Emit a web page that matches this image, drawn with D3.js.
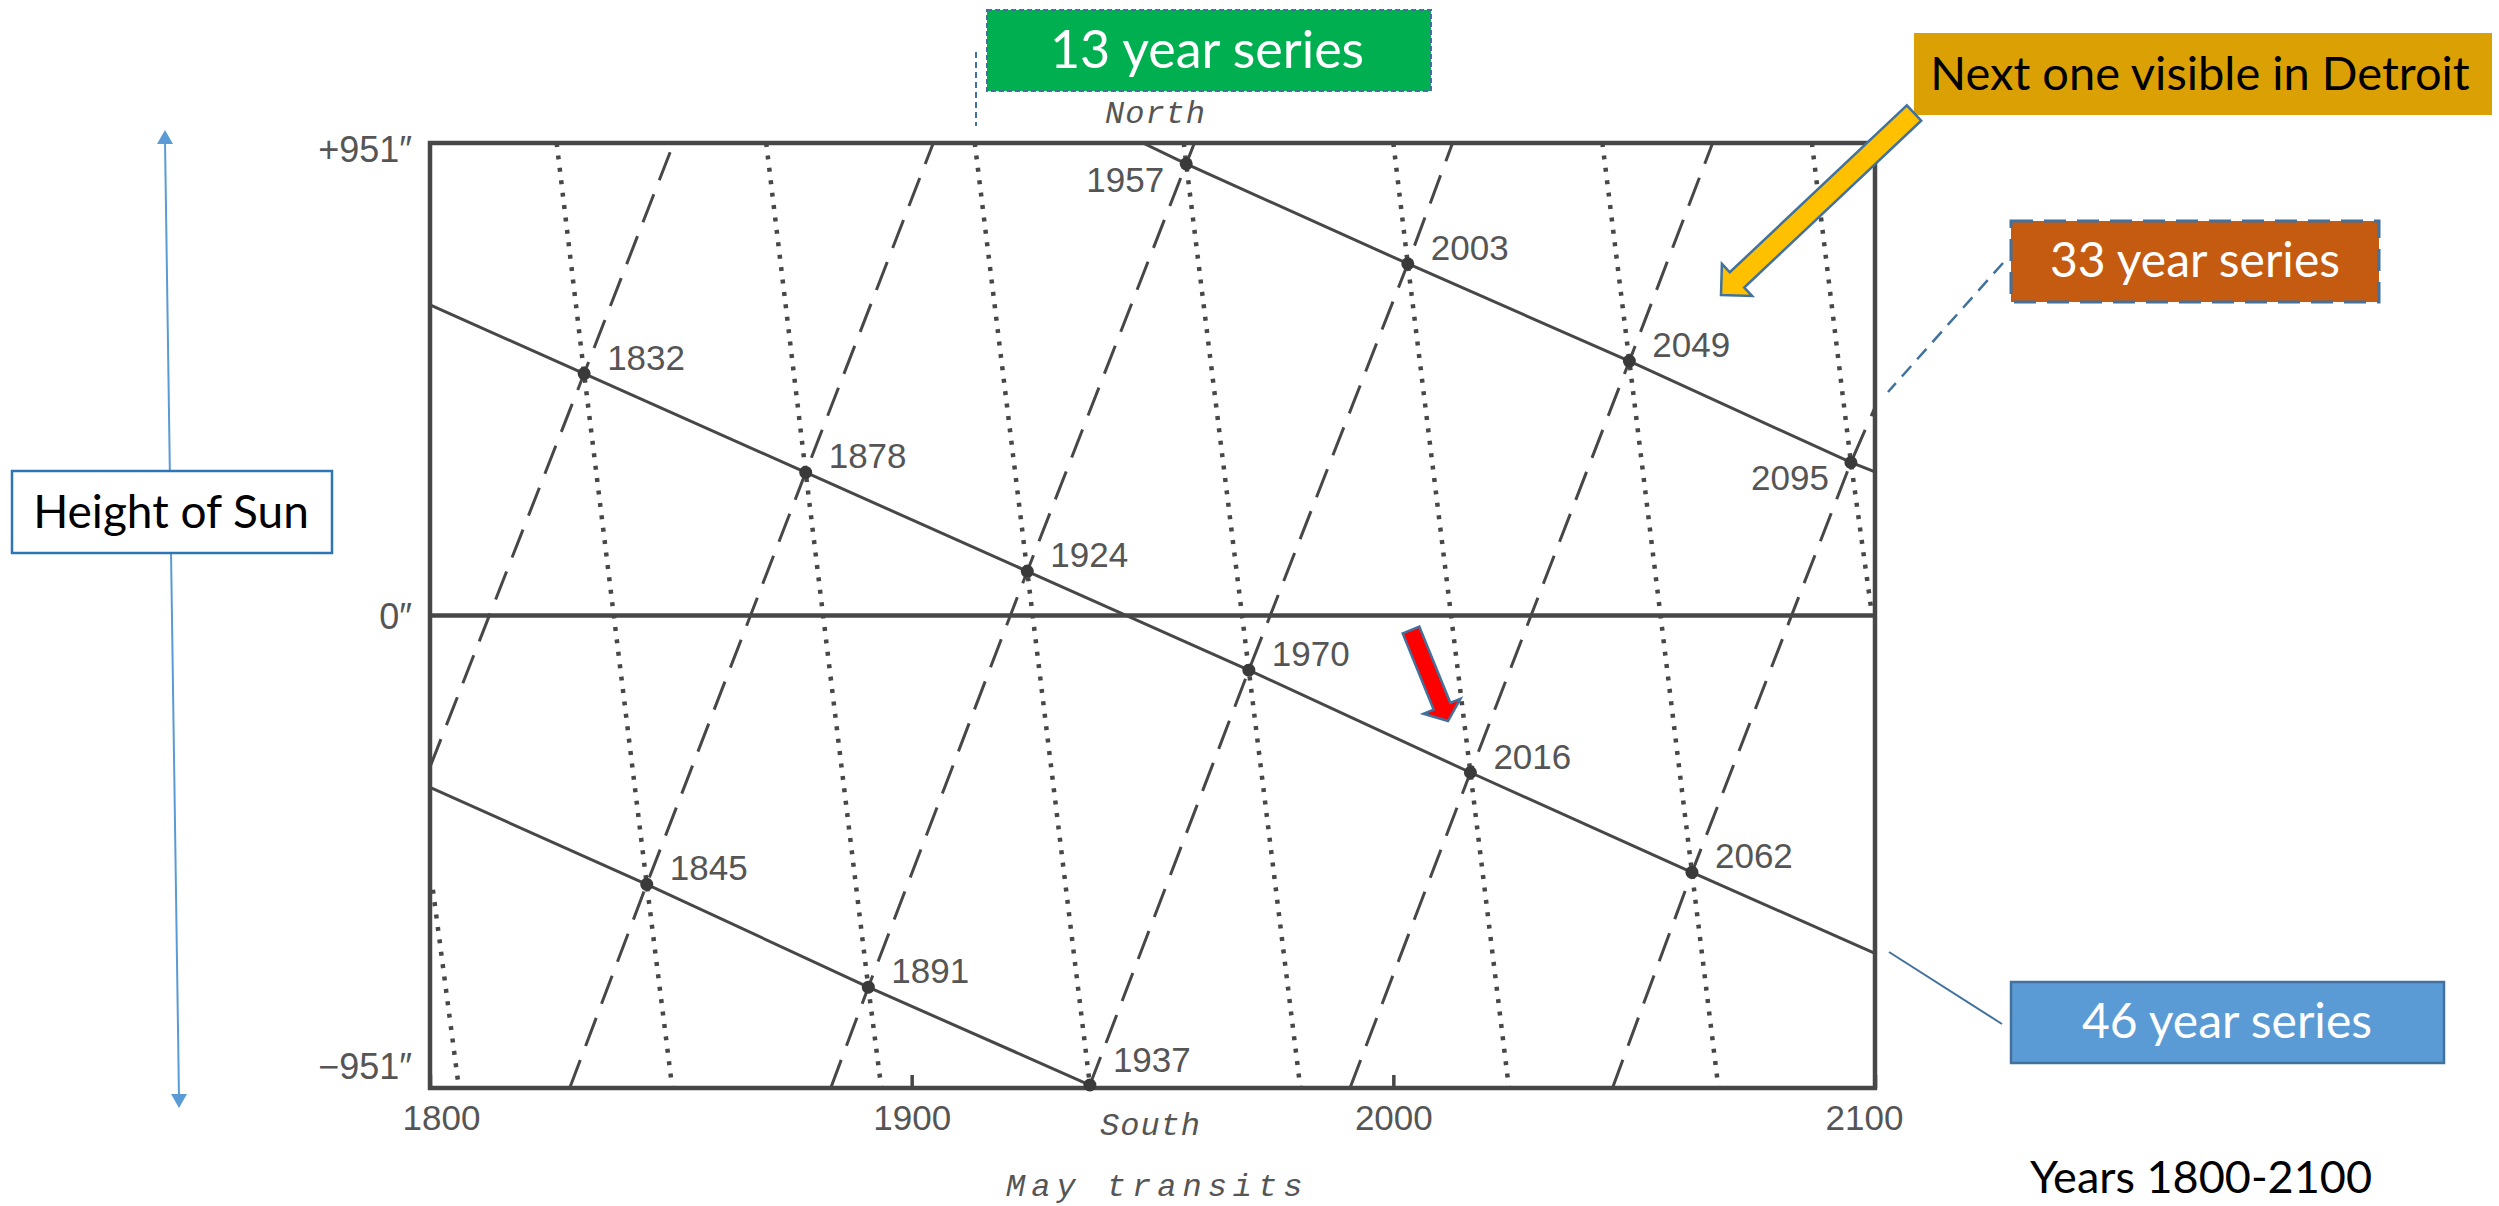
<!DOCTYPE html>
<html>
<head>
<meta charset="utf-8">
<script src="https://cdn.jsdelivr.net/npm/d3@7"></script>
<style>
  html, body { margin: 0; padding: 0; background: #fff; }
  svg { display: block; }
</style>
</head>
<body>
<svg id="chart" width="2499" height="1206"></svg>
<script>
(function () {

  // ==================
  // Data (years / least separation in arc seconds)
  // ==================
  const transitYears = [1832, 1845, 1878, 1891, 1924, 1937, 1957, 1970, 2003, 2016, 2049, 2062, 2095];
  const transitSeparation = [487, -541, 288, -748, 89, -945, 909, -110, 708, -316, 512, -517, 308];

  // 46 year series (solid lines), ends where they meet the frame
  const series46Years = [
    [1948, 1957, 2003, 2049, 2095, 2100],
    [1800, 1832, 1878, 1924, 1970, 2016, 2062, 2100],
    [1800, 1845, 1891, 1937]
  ];
  const series46Values = [
    [951, 909, 708, 512, 308, 289],
    [625, 487, 288, 89, -110, -316, -517, -680],
    [-346, -541, -748, -945]
  ];

  // 13 year series (dotted lines)
  const series13Years = [
    [1800.6, 1806],
    [1826.3, 1832, 1845, 1850.3],
    [1869.8, 1878, 1891, 1893.7],
    [1913.1, 1924, 1937],
    [1956.5, 1957, 1970, 1980.7],
    [2000, 2003, 2016, 2024],
    [2043.4, 2049, 2062, 2067.5],
    [2086.9, 2095, 2099.4]
  ];
  const series13Values = [
    [-552, -951],
    [951, 487, -541, -951],
    [951, 288, -748, -951],
    [951, 89, -945],
    [951, 909, -110, -951],
    [951, 708, -316, -951],
    [951, 512, -517, -951],
    [951, 308, 0]
  ];

  // 33 year series (dashed lines)
  const series33Years = [
    [1800, 1832, 1850.6],
    [1829, 1845, 1878, 1904.5],
    [1883.2, 1891, 1924, 1957, 1958.7],
    [1937, 1970, 2003, 2012.3],
    [1991, 2016, 2049, 2066.3],
    [2045.5, 2062, 2095, 2100]
  ];
  const series33Values = [
    [-305, 487, 951],
    [-951, -541, 288, 951],
    [-951, -748, 89, 909, 951],
    [-945, -110, 708, 951],
    [-951, -316, 512, 951],
    [-951, -517, 308, 419]
  ];

  const xTickValues = [1800, 1900, 2000, 2100];
  const yTickValues = [951, 0, -951];
  const leftLabelYears = [1957, 2095];


  // ==================
  // Layout
  // ==================
  const PLOT_LEFT = 430;
  const PLOT_RIGHT = 1875;
  const PLOT_TOP = 143;
  const PLOT_BOTTOM = 1088;

  const INK = '#474747';
  const LABEL_INK = '#555';
  const CHART_FONT = "'Liberation Sans', Arial, sans-serif";
  const MONO_FONT = "'Liberation Mono', 'Courier New', monospace";
  const NOTE_FONT = "Lato, 'Open Sans', sans-serif";
  const OUTLINE = '#41719C';

  const svg = d3.select('#chart');

  const xScale = d3.scaleLinear()
    .domain([1800, 2100])
    .range([PLOT_LEFT, PLOT_RIGHT]);

  const yScale = d3.scaleLinear()
    .domain([-951, 951])
    .range([PLOT_BOTTOM, PLOT_TOP]);

  const line = d3.line()
    .x(d => xScale(d[0]))
    .y(d => yScale(d[1]));

  svg.append('rect')
    .attr('width', 2499)
    .attr('height', 1206)
    .attr('fill', '#fff');

  svg.append('clipPath')
    .attr('id', 'plotClip')
    .append('rect')
    .attr('x', PLOT_LEFT)
    .attr('y', PLOT_TOP)
    .attr('width', PLOT_RIGHT - PLOT_LEFT)
    .attr('height', PLOT_BOTTOM - PLOT_TOP);

  const plot = svg.append('g').attr('clip-path', 'url(#plotClip)');


  // ==================
  // Series lines
  // ==================
  const drawSeries = (years, values, cls, width, dash) => {
    plot.selectAll('path.' + cls)
      .data(years.map((ys, i) => d3.zip(ys, values[i])))
      .join('path')
      .attr('class', cls)
      .attr('d', line)
      .attr('fill', 'none')
      .attr('stroke', INK)
      .attr('stroke-width', width)
      .attr('stroke-dasharray', dash);
  };

  drawSeries(series13Years, series13Values, 'series-13', 4.5, '4 8.5');
  drawSeries(series33Years, series33Values, 'series-33', 3, '30 15');
  drawSeries(series46Years, series46Values, 'series-46', 3, null);


  // ==================
  // Frame, zero line and axes
  // ==================
  svg.append('rect')
    .attr('x', PLOT_LEFT)
    .attr('y', PLOT_TOP)
    .attr('width', PLOT_RIGHT - PLOT_LEFT)
    .attr('height', PLOT_BOTTOM - PLOT_TOP)
    .attr('fill', 'none')
    .attr('stroke', INK)
    .attr('stroke-width', 4.5);

  svg.append('line')
    .attr('x1', PLOT_LEFT)
    .attr('x2', PLOT_RIGHT)
    .attr('y1', yScale(0))
    .attr('y2', yScale(0))
    .attr('stroke', INK)
    .attr('stroke-width', 4.5);

  const xAxis = d3.axisBottom(xScale)
    .tickValues(xTickValues)
    .tickFormat(d3.format('d'))
    .tickSizeInner(-13)
    .tickSizeOuter(0)
    .tickPadding(17);

  const xAxisGroup = svg.append('g')
    .attr('transform', `translate(0, ${PLOT_BOTTOM})`)
    .call(xAxis);

  xAxisGroup.select('.domain').remove();
  xAxisGroup.selectAll('.tick line').attr('stroke', INK).attr('stroke-width', 3.5);
  xAxisGroup.selectAll('.tick text')
    .attr('font-family', CHART_FONT)
    .attr('font-size', 35)
    .attr('fill', LABEL_INK)
    .attr('dx', d => d === 1800 ? 11 : d === 2100 ? -11 : 0);

  const yAxis = d3.axisLeft(yScale)
    .tickValues(yTickValues)
    .tickFormat(d => (d > 0 ? '+' : d < 0 ? '\u2212' : '') + Math.abs(d) + '\u2033')
    .tickSize(0)
    .tickPadding(18);

  const yAxisGroup = svg.append('g')
    .attr('transform', `translate(${PLOT_LEFT}, 0)`)
    .call(yAxis);

  yAxisGroup.select('.domain').remove();
  yAxisGroup.selectAll('.tick text')
    .attr('font-family', CHART_FONT)
    .attr('font-size', 36)
    .attr('fill', LABEL_INK)
    .attr('dy', d => d > 0 ? 18 : d < 0 ? -10 : 13);

  const monoLabel = (x, y, spacing, label) => {
    svg.append('text')
      .attr('x', x)
      .attr('y', y)
      .attr('font-family', MONO_FONT)
      .attr('font-style', 'italic')
      .attr('font-size', 32)
      .attr('letter-spacing', spacing)
      .attr('fill', LABEL_INK)
      .text(label);
  };

  monoLabel(1105, 123, 1, 'North');
  monoLabel(1100, 1135, 1, 'South');
  monoLabel(1006, 1196, 6, 'May transits');


  // ==================
  // Transit points
  // ==================
  const transits = d3.zip(transitYears, transitSeparation);

  svg.selectAll('circle.transit')
    .data(transits)
    .join('circle')
    .attr('class', 'transit')
    .attr('cx', d => xScale(d[0]))
    .attr('cy', d => yScale(d[1]))
    .attr('r', 6.5)
    .attr('fill', '#3a3a3a');

  svg.selectAll('text.transit-label')
    .data(transits)
    .join('text')
    .attr('class', 'transit-label')
    .attr('x', d => xScale(d[0]) + (leftLabelYears.includes(d[0]) ? -22 : 23))
    .attr('y', d => Math.min(yScale(d[1]) + (leftLabelYears.includes(d[0]) ? 28 : -4), PLOT_BOTTOM - 16))
    .attr('text-anchor', d => leftLabelYears.includes(d[0]) ? 'end' : 'start')
    .attr('font-family', CHART_FONT)
    .attr('font-size', 35)
    .attr('fill', LABEL_INK)
    .text(d => d[0]);


  // ==================
  // Annotations
  // ==================
  const arrowPoints = (x1, y1, x2, y2, shaft, headW, headL) => {
    const len = Math.hypot(x2 - x1, y2 - y1);
    const ux = (x2 - x1) / len;
    const uy = (y2 - y1) / len;
    const px = -uy;
    const py = ux;
    const nx = x2 - ux * headL;
    const ny = y2 - uy * headL;
    const s = shaft / 2;
    const h = headW / 2;
    return [
      [x1 + px * s, y1 + py * s],
      [nx + px * s, ny + py * s],
      [nx + px * h, ny + py * h],
      [x2, y2],
      [nx - px * h, ny - py * h],
      [nx - px * s, ny - py * s],
      [x1 - px * s, y1 - py * s]
    ].map(p => p.join(',')).join(' ');
  };

  const noteBox = (x, y, w, h, fill, stroke, strokeWidth, dash, label, textColor, cx, baseline, size) => {
    svg.append('rect')
      .attr('x', x)
      .attr('y', y)
      .attr('width', w)
      .attr('height', h)
      .attr('fill', fill)
      .attr('stroke', stroke)
      .attr('stroke-width', strokeWidth)
      .attr('stroke-dasharray', dash);
    svg.append('text')
      .attr('x', cx)
      .attr('y', baseline)
      .attr('text-anchor', 'middle')
      .attr('font-family', NOTE_FONT)
      .attr('font-size', size)
      .attr('fill', textColor)
      .text(label);
  };

  // vertical "Height of Sun" double arrow
  svg.append('line')
    .attr('x1', 165).attr('y1', 140)
    .attr('x2', 179).attr('y2', 1098)
    .attr('stroke', '#5B9BD5')
    .attr('stroke-width', 2);
  svg.append('polygon')
    .attr('points', '165,130 157,144 173,144')
    .attr('fill', '#5B9BD5');
  svg.append('polygon')
    .attr('points', '179,1108 171,1094 187,1094')
    .attr('fill', '#5B9BD5');

  noteBox(12, 471, 320, 82, '#fff', '#2E75B6', 2.5, null, 'Height of Sun', '#000', 171, 528, 46);

  // 13 year series
  svg.append('line')
    .attr('x1', 976).attr('y1', 52)
    .attr('x2', 976).attr('y2', 126)
    .attr('stroke', OUTLINE)
    .attr('stroke-width', 2)
    .attr('stroke-dasharray', '6 4');
  noteBox(987, 10, 444, 81, '#00B050', OUTLINE, 2, '5 3', '13 year series', '#fff', 1207, 68, 52);

  // Detroit note
  noteBox(1914, 33, 578, 82, '#DBA003', 'none', 0, null, 'Next one visible in Detroit', '#000', 2200, 90, 47);
  svg.append('polygon')
    .attr('points', arrowPoints(1914, 113, 1721, 295, 21, 44, 22))
    .attr('fill', '#FFC000')
    .attr('stroke', OUTLINE)
    .attr('stroke-width', 2.5)
    .attr('stroke-linejoin', 'miter');

  // 33 year series
  svg.append('line')
    .attr('x1', 2003).attr('y1', 263)
    .attr('x2', 1888).attr('y2', 392)
    .attr('stroke', OUTLINE)
    .attr('stroke-width', 2.5)
    .attr('stroke-dasharray', '14 9');
  noteBox(2011, 221, 368, 81, '#C55A11', OUTLINE, 3, '22 11', '33 year series', '#fff', 2195, 277, 48);

  // 46 year series
  svg.append('line')
    .attr('x1', 1889).attr('y1', 952)
    .attr('x2', 2002).attr('y2', 1024)
    .attr('stroke', OUTLINE)
    .attr('stroke-width', 2);
  noteBox(2011, 982, 433, 81, '#5B9BD5', OUTLINE, 2.5, null, '46 year series', '#fff', 2227, 1038, 48);

  // red arrow toward 2016
  svg.append('polygon')
    .attr('points', arrowPoints(1411, 630, 1448, 721, 18, 40, 16))
    .attr('fill', '#FF0000')
    .attr('stroke', OUTLINE)
    .attr('stroke-width', 2.5);

  svg.append('text')
    .attr('x', 2201)
    .attr('y', 1193)
    .attr('text-anchor', 'middle')
    .attr('font-family', NOTE_FONT)
    .attr('font-size', 45)
    .attr('fill', '#000')
    .text('Years 1800-2100');

})();
</script>
</body>
</html>
